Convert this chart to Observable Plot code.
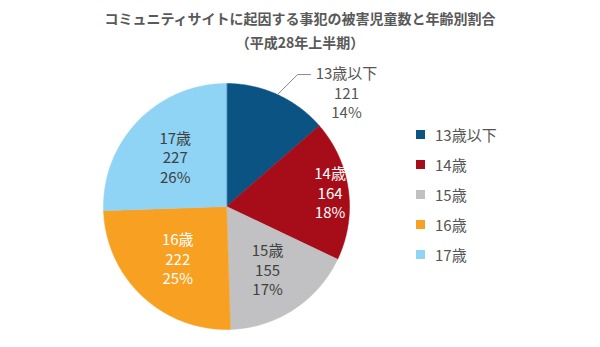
<!DOCTYPE html>
<html><head><meta charset="utf-8">
<script src="https://cdn.jsdelivr.net/npm/d3@7"></script>
<script src="https://cdn.jsdelivr.net/npm/@observablehq/plot@0.6"></script>
<style>
html,body{margin:0;padding:0;background:#fff;}
#wrap{position:relative;width:600px;height:347px;overflow:hidden;font-family:"Noto Sans CJK JP","Noto Sans",sans-serif;}
#title{position:absolute;left:0;top:6px;width:600px;text-align:center;color:#595959;font-weight:bold;font-size:14px;line-height:24px;}
#legend{position:absolute;left:416px;top:119px;}
.row{height:30px;display:flex;align-items:center;font-size:15px;color:#555;}
.sw{width:9px;height:9px;margin-right:10px;}
#chart{position:absolute;left:0;top:0;}
</style></head>
<body><div id="wrap">
<div id="chart"></div>
<div id="title">コミュニティサイトに起因する事犯の被害児童数と年齢別割合<br>（平成28年上半期）</div>
<div id="legend"></div>
</div>
<script>
const categories = ["13歳以下","14歳","15歳","16歳","17歳"];
const counts = [121,164,155,222,227];
const colors = ["#0a5383","#a60d18","#c1c1c3","#f8a021","#8fd3f5"];
const labelColors = ["#555555","#ffffff","#404040","#ffffff","#404040"];
const labelRadius = [null,0.85,0.61,0.58,0.58];

const W=600,H=347,R=123,cx=226,cy=206;
const total = d3.sum(counts);
const pie = d3.pie().sort(null).value(d=>d)(counts);
const pts=[];
pie.forEach((p,i)=>{
  pts.push({k:categories[i],x:0,y:0});
  const n=Math.max(2,Math.ceil((p.endAngle-p.startAngle)/0.01));
  for(let j=0;j<=n;j++){
    const a=p.startAngle+(p.endAngle-p.startAngle)*j/n;
    pts.push({k:categories[i],x:Math.sin(a),y:Math.cos(a)});
  }
});
const labels=[];
pie.forEach((p,i)=>{
  const mid=(p.startAngle+p.endAngle)/2;
  const pct=Math.round(counts[i]/total*100)+"%";
  const txt=categories[i]+"\n"+counts[i]+"\n"+pct;
  if(labelRadius[i]!=null){
    labels.push({x:labelRadius[i]*Math.sin(mid),y:labelRadius[i]*Math.cos(mid),t:txt,c:labelColors[i]});
  }
});
const p0=pie[0], m0=(p0.startAngle+p0.endAngle)/2;
const ex=Math.sin(m0), ey=Math.cos(m0);
const lead=[{x:ex,y:ey},{x:ex+20/R,y:ey+20/R},{x:ex+33/R,y:ey+20/R}];
const outLabel=[{x:ex+33/R,y:ey+20/R,t:categories[0]+"\n"+counts[0]+"\n"+Math.round(counts[0]/total*100)+"%",c:labelColors[0]}];

const chart=Plot.plot({
  width:W,height:H,margin:0,
  x:{domain:[-cx/R,(W-cx)/R],range:[0,W],axis:null},
  y:{domain:[-(H-cy)/R,cy/R],range:[H,0],axis:null},
  color:{domain:categories,range:colors},
  style:{fontFamily:'"Noto Sans CJK JP","Noto Sans",sans-serif',background:"#fff"},
  marks:[
    Plot.line(pts,{x:"x",y:"y",z:"k",fill:"k",stroke:"k",strokeWidth:0.5,curve:"linear-closed"}),
    Plot.line(lead,{x:"x",y:"y",stroke:"#888",strokeWidth:1}),
    Plot.text(labels,{x:"x",y:"y",text:"t",fill:"c",fontSize:15,lineHeight:1.3,lineAnchor:"middle"}),
    Plot.text(outLabel,{x:"x",y:"y",text:"t",fill:"c",fontSize:15,lineHeight:1.3,lineAnchor:"middle",textAnchor:"middle",dx:36,dy:18})
  ]
});
document.getElementById("chart").appendChild(chart);
const lg=document.getElementById("legend");
categories.forEach((c,i)=>{
  const r=document.createElement("div");r.className="row";
  const s=document.createElement("div");s.className="sw";s.style.background=colors[i];
  const t=document.createElement("span");t.textContent=c;
  r.appendChild(s);r.appendChild(t);lg.appendChild(r);
});
</script></body></html>
